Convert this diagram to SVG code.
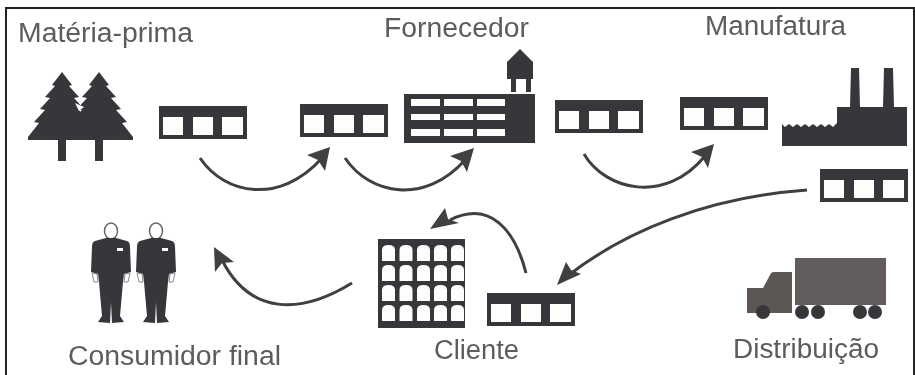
<svg xmlns="http://www.w3.org/2000/svg" width="915" height="375" viewBox="0 0 915 375">
<style>
.d{fill:#38363a}
.w{fill:#fdfdfb}
.l{font-family:"Liberation Sans",Arial,sans-serif;font-size:27px;fill:#5c5c5c}
.c{fill:none;stroke:#3f3f42;stroke-width:3}
.h{fill:#3f3f42}
</style>
<defs>
<filter id="s" x="-2%" y="-2%" width="104%" height="104%"><feGaussianBlur stdDeviation="0.6"/></filter>
<g id="box">
<rect class="d" width="88" height="33"/>
<rect class="w" x="4" y="11" width="20" height="18"/>
<rect class="w" x="34" y="11" width="20" height="18"/>
<rect class="w" x="63" y="11" width="21" height="18"/>
</g>
<path id="tree" class="d" d="M0 0 L10 13 L7 14 L17 25 L12 26 L22 37 L17 38 L28 50 L23 51 L34 65 L34 68 L4 68 L4 89 L-4 89 L-4 68 L-34 68 L-34 65 L-23 51 L-28 50 L-17 38 L-22 37 L-12 26 L-17 25 L-7 14 L-10 13Z"/>
<g id="man">
<ellipse cx="0" cy="9" rx="6.5" ry="8" fill="#fff" stroke="#666" stroke-width="1.5"/>
<path class="d" d="M-5 16 L5 16 L16 19 Q19 20 19 25 L20 50 L13 52 L12 60 L9 94 L13 100 L1 101 L0 80 L-1 101 L-13 100 L-9 94 L-12 60 L-13 52 L-20 50 L-19 25 Q-19 20 -16 19Z"/>
<path d="M-19 51 L-14 52 L-13 60 L-17 60Z M19 51 L14 52 L13 60 L17 60Z" fill="#fff" stroke="#888" stroke-width="1"/>
<rect class="w" x="6" y="26" width="6" height="3"/>
</g>
</defs>
<rect width="915" height="375" fill="#fff"/>
<g filter="url(#s)">
<path d="M6 375V8H914V375" fill="none" stroke="#222" stroke-width="2"/>
<g id="connectors">
<path class="c" d="M200 158 C225 195 280 205 322 158"/>
<path class="h" d="M330 147 L325 171 L318 160 L307 155Z"/>
<path class="c" d="M345 158 C370 195 425 205 465 160"/>
<path class="h" d="M474 148 L467 172 L461 161 L450 156Z"/>
<path class="c" d="M584 154 C605 190 665 205 705 156"/>
<path class="h" d="M714 144 L708 168 L702 157 L691 152Z"/>
<path class="c" d="M807 190 C710 197 625 230 565 278"/>
<path class="h" d="M557 285 L566 262 L571 270 L581 274Z"/>
<path class="c" d="M526 273 C515 230 490 200 450 220"/>
<path class="h" d="M430 229 L445 208 L448 219 L459 223Z"/>
<path class="c" d="M352 283 C300 315 250 315 222 260"/>
<path class="h" d="M214 247 L234 262 L222 263 L215 272Z"/>
</g>
<g id="materia-prima">
<use href="#tree" x="62" y="72"/>
<use href="#tree" x="99" y="72"/>
<path class="w" d="M75 103 L84 107 L79 111Z"/>
<text class="l" x="18" y="42" textLength="175" lengthAdjust="spacingAndGlyphs">Matéria-prima</text>
</g>
<g id="estoque-1"><use href="#box" x="159" y="106"/></g>
<g id="estoque-2"><use href="#box" x="300" y="104"/></g>
<g id="fornecedor">
<rect class="d" x="404" y="94" width="131" height="49"/>
<g class="w">
<rect x="411" y="99" width="29" height="7"/><rect x="444" y="99" width="29" height="7"/><rect x="477" y="99" width="28" height="7"/>
<rect x="411" y="114" width="29" height="6"/><rect x="444" y="114" width="29" height="6"/><rect x="477" y="114" width="28" height="6"/>
<rect x="411" y="129" width="29" height="7"/><rect x="444" y="129" width="29" height="7"/><rect x="477" y="129" width="28" height="7"/>
</g>
<path class="d" d="M520 49 L533 62 V79 H531 V92 H526 V79 H516 V92 H511 V79 H507 V62Z"/>
<text class="l" x="384" y="37" textLength="145" lengthAdjust="spacingAndGlyphs">Fornecedor</text>
</g>
<g id="estoque-3"><use href="#box" x="555" y="100"/></g>
<g id="estoque-4"><use href="#box" x="680" y="97"/></g>
<g id="manufatura">
<path class="d" d="M782 146 V124 L785 127 L789 124 L793 127 L797 124 L801 127 L805 124 L809 127 L813 124 L817 127 L821 124 L825 127 L829 124 L833 127 L837 123 V107 H850 L851 68 H859 L860 107 H883 L884 68 H893 L894 107 H907 V146Z"/>
<text class="l" x="705" y="35" textLength="141" lengthAdjust="spacingAndGlyphs">Manufatura</text>
</g>
<g id="estoque-5"><use href="#box" x="820" y="169"/></g>
<g id="estoque-6"><use href="#box" x="487" y="293"/></g>
<g id="distribuicao">
<rect x="795" y="258" width="91" height="47" fill="#625d5b"/>
<path d="M747 288 H763 L770 275 Q771 272 774 272 H792 V313 H747Z" fill="#5b5655"/>
<g class="d"><circle cx="763" cy="312" r="7"/><circle cx="802" cy="312" r="7"/><circle cx="818" cy="312" r="7"/><circle cx="860" cy="312" r="7"/><circle cx="875" cy="312" r="7"/></g>
<text class="l" x="733" y="358" textLength="146" lengthAdjust="spacingAndGlyphs">Distribuição</text>
</g>
<g id="cliente">
<rect class="d" x="378" y="239" width="87" height="89"/>
<g class="w" id="janelas">
<path id="wn" d="M382 261 V250 Q382 245 388.500 245 Q395 245 395 250 V261Z"/>
<use href="#wn" x="17.500"/><use href="#wn" x="35"/><use href="#wn" x="52"/><use href="#wn" x="69"/>
<use href="#wn" y="20"/><use href="#wn" x="17.500" y="20"/><use href="#wn" x="35" y="20"/><use href="#wn" x="52" y="20"/><use href="#wn" x="69" y="20"/>
<use href="#wn" y="40"/><use href="#wn" x="17.500" y="40"/><use href="#wn" x="35" y="40"/><use href="#wn" x="52" y="40"/><use href="#wn" x="69" y="40"/>
<use href="#wn" y="60"/><use href="#wn" x="17.500" y="60"/><use href="#wn" x="35" y="60"/><use href="#wn" x="52" y="60"/><use href="#wn" x="69" y="60"/>
</g>
<text class="l" x="434" y="359" textLength="85" lengthAdjust="spacingAndGlyphs">Cliente</text>
</g>
<g id="consumidor-final">
<use href="#man" x="111" y="222"/>
<use href="#man" x="156" y="222"/>
<text class="l" x="68" y="365" textLength="213" lengthAdjust="spacingAndGlyphs">Consumidor final</text>
</g>
</g>
</svg>
